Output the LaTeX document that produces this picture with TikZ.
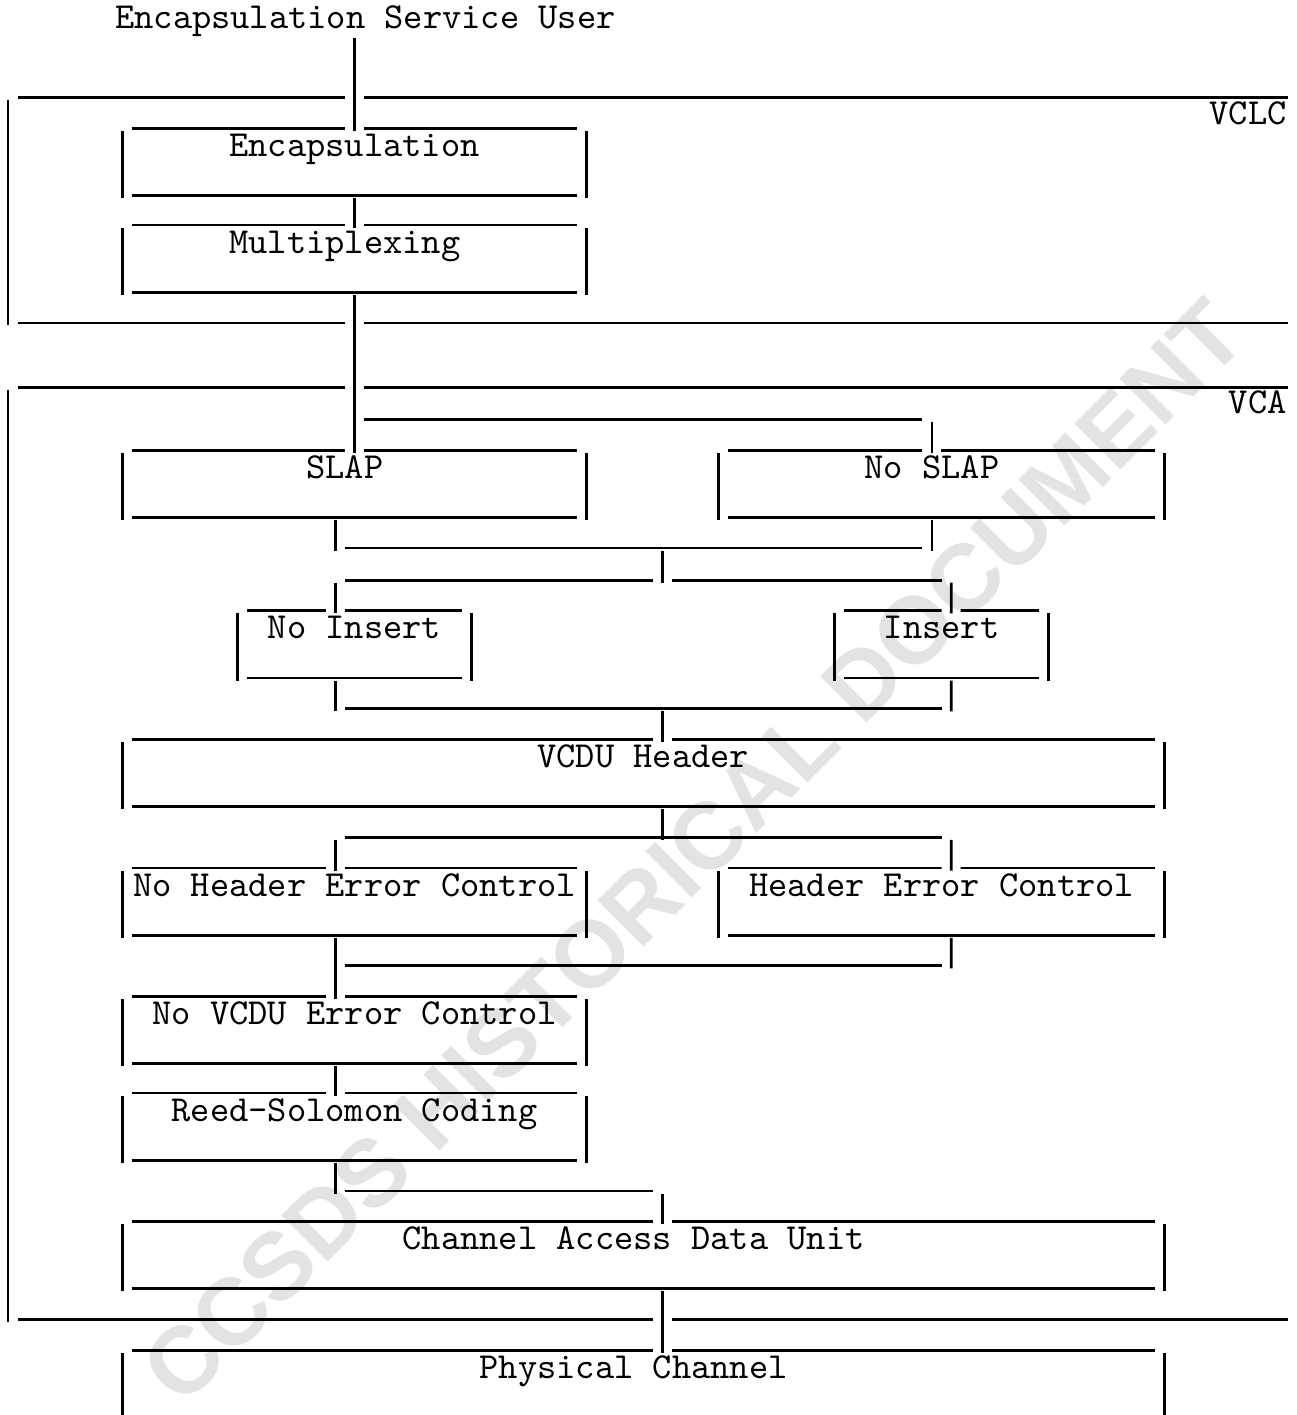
\documentclass[tikz,border=0pt]{standalone}
\usepackage{fontspec}
\newfontfamily\wmfont{Liberation Sans}
\newcommand{\tw}{\ttfamily\fontsize{10.43}{12}\selectfont\addfontfeatures{FakeBold=1.2}}
\newcommand{\cw}{1.925mm}
\newcommand{\dd}{0.26mm}
\definecolor{wmgray}{gray}{0.89}

\begin{document}
\begin{tikzpicture}[x=1.925mm, y=-3.215mm, line width=0.8pt,
      tybox/.style={inner sep=0pt, anchor=base, font=\tw, minimum width=#1*\cw,
        text height=2.668mm, text depth=3.762mm,
        append after command={\pgfextra{\let\tybx\tikzlastnode}
          ([xshift=.5*\cw]\tybx.north west) edge ([xshift=-.5*\cw]\tybx.north east)
          ([xshift=.5*\cw]\tybx.south west) edge ([xshift=-.5*\cw]\tybx.south east)
          ([yshift=-\dd]\tybx.north west) edge ([yshift=-\dd]\tybx.south west)
          ([yshift=-\dd]\tybx.north east) edge ([yshift=-\dd]\tybx.south east)}},
      lbl/.style={inner sep=0pt, font=\tw},
      pipe/.style={preaction={draw=white, line width=1.9mm}}]
  \useasboundingbox (-0.416,-0.874) rectangle (66.96,43.14);

  % layers
  \draw (0.5,2.17) -- (66.5,2.17) (0,2.25) -- (0,9.25) (0.5,9.17) -- (66.5,9.17);
  \draw (0.5,11.17) -- (66.5,11.17) (0,11.25) -- (0,40.25) (0.5,40.17) -- (66.5,40.17);
  \node[lbl, anchor=base east] (vclc) at (66.5,3) {VCLC};
  \node[lbl, anchor=base east] (vca) at (66.5,12) {VCA};

  \node[lbl, anchor=base west] (user) at (5.5,0) {Encapsulation Service User};
  \node[tybox=24] (enc) at (18,4) {Encapsulation};
  \node[tybox=24] (mux) at (18,7) {Multiplexing\hphantom{x}};
  \node[tybox=24] (slap) at (18,14) {SLAP\hphantom{x}};
  \node[tybox=23] (noslap) at (48.5,14) {No SLAP\hphantom{x}};
  \node[tybox=12] (noins) at (18,19) {No Insert};
  \node[tybox=11] (ins) at (48.5,19) {Insert};
  \node[tybox=54] (vcdu) at (33,23) {VCDU Header};
  \node[tybox=24] (nhec) at (18,27) {No Header Error Control};
  \node[tybox=23] (hec) at (48.5,27) {Header Error Control};
  \node[tybox=24] (nvec) at (18,31) {No VCDU Error Control};
  \node[tybox=24] (rs) at (18,34) {Reed-Solomon Coding};
  \node[tybox=54] (cadu) at (33,38) {Channel Access Data Unit\hphantom{x}};
  \node[tybox=54] (phys) at (33,42) {Physical Channel\hphantom{x}};

  \draw[pipe] (user.south -| enc.north) -- ([yshift=-\dd]enc.north);
  \draw[pipe] ([yshift=-\dd]enc.south) -- ([yshift=-\dd]mux.north);
  \draw[pipe] ([yshift=-\dd]mux.south) -- ([yshift=-\dd]slap.north);
  \draw (18.5,12.17) -- (47.5,12.17);
  \draw[pipe] (48,12.25) -- ([xshift=-.5*\cw, yshift=-\dd]noslap.north);

  \draw[pipe] ([xshift=-\cw, yshift=-\dd]slap.south) -- (17,16.25);
  \draw[pipe] ([xshift=-.5*\cw, yshift=-\dd]noslap.south) -- (48,16.25);
  \draw (17.5,16.17) -- (47.5,16.17);
  \draw (17.5,17.17) -- (48.5,17.17);
  \draw[pipe] (34,16.25) -- (34,17.25);
  \draw[pipe] (17,17.25) -- ([xshift=-\cw, yshift=-\dd]noins.north);
  \draw[pipe] (49,17.25) -- ([xshift=.5*\cw, yshift=-\dd]ins.north);

  \draw[pipe] ([xshift=-\cw, yshift=-\dd]noins.south) -- (17,21.25);
  \draw[pipe] ([xshift=.5*\cw, yshift=-\dd]ins.south) -- (49,21.25);
  \draw (17.5,21.17) -- (48.5,21.17);
  \draw[pipe] (34,21.25) -- ([xshift=\cw, yshift=-\dd]vcdu.north);

  \draw[pipe] ([xshift=\cw, yshift=-\dd]vcdu.south) -- (34,25.25);
  \draw (17.5,25.17) -- (48.5,25.17);
  \draw[pipe] (17,25.25) -- ([xshift=-\cw, yshift=-\dd]nhec.north);
  \draw[pipe] (49,25.25) -- ([xshift=.5*\cw, yshift=-\dd]hec.north);

  \draw[pipe] ([xshift=-\cw, yshift=-\dd]nhec.south) -- ([xshift=-\cw, yshift=-\dd]nvec.north);
  \draw[pipe] ([xshift=.5*\cw, yshift=-\dd]hec.south) -- (49,29.25);
  \draw (17.5,29.17) -- (48.5,29.17);
  \draw[pipe] ([xshift=-\cw, yshift=-\dd]nvec.south) -- ([xshift=-\cw, yshift=-\dd]rs.north);

  \draw[pipe] ([xshift=-\cw, yshift=-\dd]rs.south) -- (17,36.25);
  \draw (17.5,36.17) -- (33.5,36.17);
  \draw[pipe] (34,36.25) -- ([xshift=\cw, yshift=-\dd]cadu.north);
  \draw[pipe] ([xshift=\cw, yshift=-\dd]cadu.south) -- ([xshift=\cw, yshift=-\dd]phys.north);

  \begin{scope}[blend mode=multiply]
    \node[rotate=45, text=wmgray, font=\wmfont\bfseries\fontsize{27}{27}\selectfont]
      (wm) at (35.6,25.6) {CCSDS HISTORICAL DOCUMENT};
  \end{scope}
\end{tikzpicture}
\end{document}
